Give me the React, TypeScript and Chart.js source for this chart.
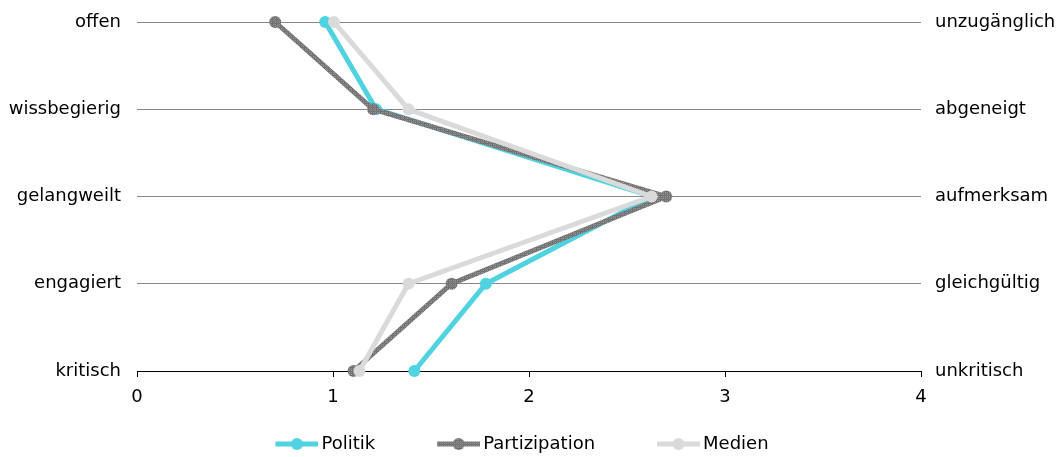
import React, { useEffect, useRef } from "react";
import { Chart, registerables } from "chart.js";

Chart.register(...registerables);

const leftLabels = ["offen", "wissbegierig", "gelangweilt", "engagiert", "kritisch"];
const rightLabels = ["unzugänglich", "abgeneigt", "aufmerksam", "gleichgültig", "unkritisch"];
const seriesNames = ["Politik", "Partizipation", "Medien"];
const politik = [0.96, 1.22, 2.63, 1.78, 1.415];
const partizipation = [0.705, 1.205, 2.7, 1.605, 1.105];
const medien = [1.005, 1.385, 2.625, 1.385, 1.135];
const xMin = 0;
const xMax = 4;

const FONT = "'DejaVu Sans', sans-serif";
const CYAN = "#4fd3e0";
const LIGHT = "#dadada";
const CLEAR = "rgba(0,0,0,0)";

function makeNoise(ctx: CanvasRenderingContext2D): CanvasPattern | string {
  const c = document.createElement("canvas");
  c.width = 4;
  c.height = 4;
  const g = c.getContext("2d");
  if (!g) return "#7a7a7a";
  const cols = ["#6a6a6c", "#8e8e90", "#787879", "#9c9c9d"];
  for (let y = 0; y < 4; y++) {
    for (let x = 0; x < 4; x++) {
      g.fillStyle = cols[(x * 3 + y * 2 + x * y) % 4];
      g.fillRect(x, y, 1, 1);
    }
  }
  return ctx.createPattern(c, "repeat") || "#7a7a7a";
}

function makeLegendIcon(color: any, boxW: number): HTMLCanvasElement {
  const W = boxW + 12;
  const H = 14;
  const c = document.createElement("canvas");
  c.width = W;
  c.height = H;
  const g = c.getContext("2d");
  if (g) {
    const sampleW = 43;
    const x0 = W - sampleW;
    g.strokeStyle = color;
    g.fillStyle = color;
    g.lineWidth = 5;
    g.beginPath();
    g.moveTo(x0, H / 2);
    g.lineTo(W, H / 2);
    g.stroke();
    g.beginPath();
    g.arc(x0 + sampleW / 2, H / 2, 6, 0, Math.PI * 2);
    g.fill();
  }
  return c;
}

export default function App() {
  const ref = useRef<HTMLCanvasElement | null>(null);

  useEffect(() => {
    const canvas = ref.current;
    if (!canvas) return;
    const ctx = canvas.getContext("2d");
    if (!ctx) return;
    const noise = makeNoise(ctx);
    const BOXW = 89;
    const SHIFT = 72;
    const colors: any[] = [CYAN, noise, LIGHT];
    const icons = colors.map((c) => makeLegendIcon(c, BOXW));

    const chart = new Chart(ctx, {
      type: "line",
      data: {
        labels: leftLabels,
        datasets: [
          { label: seriesNames[0], data: politik, borderColor: CYAN, backgroundColor: CYAN, pointBackgroundColor: CYAN, order: 2 },
          { label: seriesNames[1], data: partizipation, borderColor: noise as any, backgroundColor: noise as any, pointBackgroundColor: noise as any, order: 1 },
          { label: seriesNames[2], data: medien, borderColor: LIGHT, backgroundColor: LIGHT, pointBackgroundColor: LIGHT, order: 0 },
        ],
      },
      options: {
        indexAxis: "y",
        responsive: false,
        animation: false,
        layout: { padding: { top: 22, left: -SHIFT, right: 0, bottom: -6 } },
        elements: {
          line: { borderWidth: 5, tension: 0, fill: false },
          point: { radius: 6, borderWidth: 0, hoverRadius: 6 },
        },
        scales: {
          x: {
            type: "linear",
            position: "bottom",
            min: xMin,
            max: xMax,
            ticks: { stepSize: 1, color: "#000", font: { family: FONT, size: 18 }, padding: 10 },
            grid: { drawOnChartArea: false, drawTicks: true, tickLength: 6, color: "#000" },
            border: { display: true, color: "#000", width: 1 },
            afterFit: (s: any) => { s.height = 54; },
          },
          y: {
            type: "category",
            position: "left",
            offset: false,
            ticks: { color: "#000", font: { family: FONT, size: 18 }, padding: 0 },
            grid: { color: "#888888", drawTicks: true, tickLength: 16, tickColor: CLEAR, lineWidth: 1 },
            border: { display: false },
            afterFit: (s: any) => { s.width = 137 + SHIFT; },
          },
          y2: {
            type: "category",
            position: "right",
            labels: rightLabels,
            offset: false,
            ticks: { color: "#000", font: { family: FONT, size: 18 }, padding: 0 },
            grid: { display: true, drawOnChartArea: false, drawTicks: true, tickLength: 14, color: CLEAR, tickColor: CLEAR },
            border: { display: false },
            afterFit: (s: any) => { s.width = 143; },
          },
        },
        plugins: {
          tooltip: { enabled: false },
          title: { display: false },
          legend: {
            display: true,
            position: "bottom",
            align: "center",
            labels: {
              usePointStyle: true,
              pointStyleWidth: BOXW,
              padding: 10,
              color: "#000",
              font: { family: FONT, size: 18 },
              generateLabels: (ch: any) =>
                ch.data.datasets.map((ds: any, i: number) => ({
                  text: ds.label,
                  pointStyle: icons[i],
                  fillStyle: CLEAR,
                  strokeStyle: CLEAR,
                  lineWidth: 0,
                  hidden: false,
                  datasetIndex: i,
                  fontColor: "#000",
                })),
            },
          },
        },
      },
    });
    return () => chart.destroy();
  }, []);

  return (
    <div style={{ position: "absolute", left: 0, top: 0, width: 1064, height: 457, background: "#fff" }}>
      <canvas ref={ref} width={1064} height={457} />
    </div>
  );
}
